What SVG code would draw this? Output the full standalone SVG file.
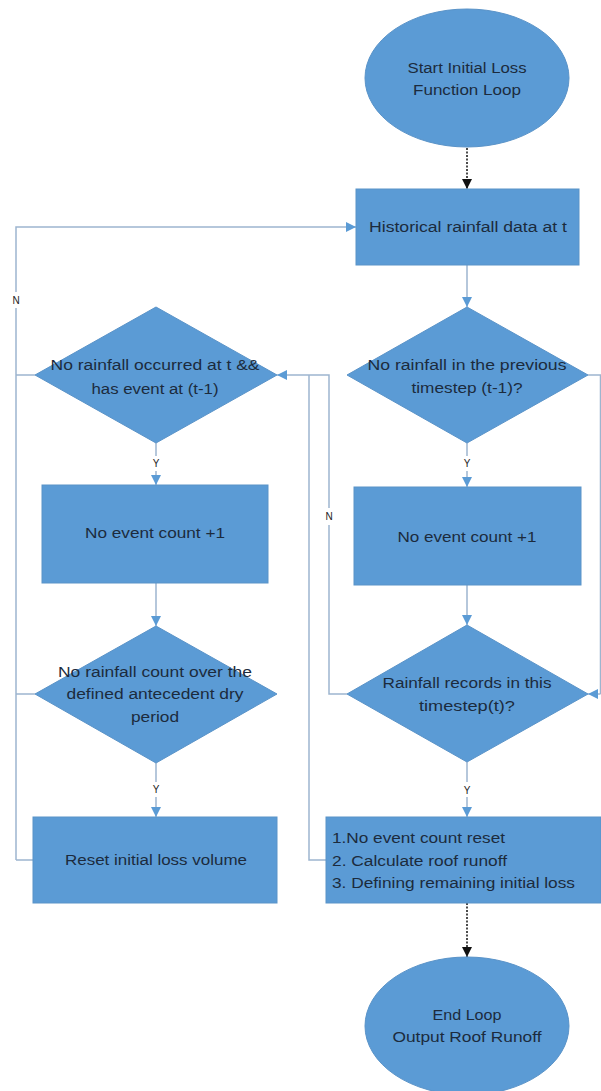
<svg xmlns="http://www.w3.org/2000/svg" width="601" height="1091" viewBox="0 0 601 1091">
<style>
.shape{fill:#5b9bd5;stroke:#5a93c8;stroke-width:1}
.t{font-family:"Liberation Sans",Arial,sans-serif;font-size:15.5px;fill:#1c2b3d;text-anchor:middle}
.tl{font-family:"Liberation Sans",Arial,sans-serif;font-size:15.5px;fill:#1c2b3d}
.lbl{font-family:"Liberation Sans",Arial,sans-serif;font-size:10px;fill:#222;text-anchor:middle}
.c{fill:none;stroke:#9db5cf;stroke-width:1.5}
.ca{fill:none;stroke:#9db5cf;stroke-width:1.5;marker-end:url(#ab)}
.d{fill:none;stroke:#111;stroke-width:1.5;stroke-dasharray:2 1.5;marker-end:url(#ak)}
</style>
<defs>
<marker id="ab" markerUnits="userSpaceOnUse" markerWidth="11" markerHeight="10" refX="10" refY="5" orient="auto"><path d="M0,0 L10,5 L0,10 z" fill="#5b9bd5"/></marker>
<marker id="ak" markerUnits="userSpaceOnUse" markerWidth="11" markerHeight="10" refX="10" refY="5" orient="auto"><path d="M0,0 L10,5 L0,10 z" fill="#111"/></marker>
</defs>
<rect width="601" height="1091" fill="#ffffff"/>
<g id="connectors">
<path class="d" d="M467,148 L467,189"/>
<path class="ca" d="M467,265 L467,307"/>
<path class="c" d="M467,443 L467,456"/>
<path class="ca" d="M467,471 L467,487"/>
<path class="ca" d="M467,585 L467,625"/>
<path class="c" d="M467,762 L467,782"/>
<path class="ca" d="M467,797 L467,817"/>
<path class="d" d="M467,903 L467,957"/>
<path class="c" d="M347,694 L329,694 L329,525"/>
<path class="ca" d="M329,508 L329,375 L277,375"/>
<path class="c" d="M326,860 L309,860 L309,375"/>
<path class="c" d="M588,375 L600.5,375 L600.5,694"/>
<path class="ca" d="M600.5,694 L588,694"/>
<path class="c" d="M35,375 L16,375"/>
<path class="c" d="M16,860 L16,308"/>
<path class="ca" d="M16,292 L16,227 L356,227"/>
<path class="c" d="M35,694 L16,694"/>
<path class="c" d="M33,860 L16,860"/>
<path class="c" d="M156,443 L156,456"/>
<path class="ca" d="M156,471 L156,485"/>
<path class="ca" d="M156,583 L156,626"/>
<path class="c" d="M156,763 L156,782"/>
<path class="ca" d="M156,797 L156,817"/>
<text class="lbl" x="16" y="304">N</text>
<text class="lbl" x="329" y="520">N</text>
<text class="lbl" x="156" y="467">Y</text>
<text class="lbl" x="156" y="793">Y</text>
<text class="lbl" x="467" y="467">Y</text>
<text class="lbl" x="467" y="794">Y</text>
</g>
<g id="start">
<ellipse class="shape" cx="467" cy="78" rx="102" ry="69"/>
<text class="t" x="467" y="73" textLength="119" lengthAdjust="spacingAndGlyphs">Start Initial Loss</text>
<text class="t" x="467" y="95" textLength="108" lengthAdjust="spacingAndGlyphs">Function Loop</text>
</g>
<g id="historical">
<rect class="shape" x="356" y="189" width="223" height="76"/>
<text class="t" x="468" y="232" textLength="198" lengthAdjust="spacingAndGlyphs">Historical rainfall data at t</text>
</g>
<g id="dec-prev">
<polygon class="shape" points="467,307 588,375 467,443 347,375"/>
<text class="t" x="467" y="370" textLength="199" lengthAdjust="spacingAndGlyphs">No rainfall in the previous</text>
<text class="t" x="467" y="393" textLength="111" lengthAdjust="spacingAndGlyphs">timestep (t-1)?</text>
</g>
<g id="count-right">
<rect class="shape" x="354" y="487" width="227" height="98"/>
<text class="t" x="467" y="542" textLength="139" lengthAdjust="spacingAndGlyphs">No event count +1</text>
</g>
<g id="dec-records">
<polygon class="shape" points="467,625 588,694 467,762 347,694"/>
<text class="t" x="467" y="688" textLength="169" lengthAdjust="spacingAndGlyphs">Rainfall records in this</text>
<text class="t" x="467" y="711" textLength="96" lengthAdjust="spacingAndGlyphs">timestep(t)?</text>
</g>
<g id="reset-calc">
<rect class="shape" x="326" y="817" width="275" height="86"/>
<text class="tl" x="332" y="843" textLength="173" lengthAdjust="spacingAndGlyphs">1.No event count reset</text>
<text class="tl" x="332" y="866" textLength="175" lengthAdjust="spacingAndGlyphs">2. Calculate roof runoff</text>
<text class="tl" x="332" y="888" textLength="243" lengthAdjust="spacingAndGlyphs">3. Defining remaining initial loss</text>
</g>
<g id="end">
<ellipse class="shape" cx="467" cy="1026" rx="102" ry="69"/>
<text class="t" x="467" y="1020" textLength="69" lengthAdjust="spacingAndGlyphs">End Loop</text>
<text class="t" x="467" y="1042" textLength="149" lengthAdjust="spacingAndGlyphs">Output Roof Runoff</text>
</g>
<g id="dec-norain">
<polygon class="shape" points="156,307 277,375 156,443 35,375"/>
<text class="t" x="155" y="370" textLength="209" lengthAdjust="spacingAndGlyphs">No rainfall occurred at t &amp;&amp;</text>
<text class="t" x="155" y="394" textLength="127" lengthAdjust="spacingAndGlyphs">has event at (t-1)</text>
</g>
<g id="count-left">
<rect class="shape" x="42" y="485" width="226" height="98"/>
<text class="t" x="155" y="538" textLength="140" lengthAdjust="spacingAndGlyphs">No event count +1</text>
</g>
<g id="dec-dry">
<polygon class="shape" points="156,626 277,694 156,763 35,694"/>
<text class="t" x="155" y="677" textLength="194" lengthAdjust="spacingAndGlyphs">No rainfall count over the</text>
<text class="t" x="155" y="699" textLength="177" lengthAdjust="spacingAndGlyphs">defined antecedent dry</text>
<text class="t" x="155" y="722" textLength="48" lengthAdjust="spacingAndGlyphs">period</text>
</g>
<g id="reset-loss">
<rect class="shape" x="33" y="817" width="244" height="86"/>
<text class="t" x="156" y="865" textLength="182" lengthAdjust="spacingAndGlyphs">Reset initial loss volume</text>
</g>
</svg>
